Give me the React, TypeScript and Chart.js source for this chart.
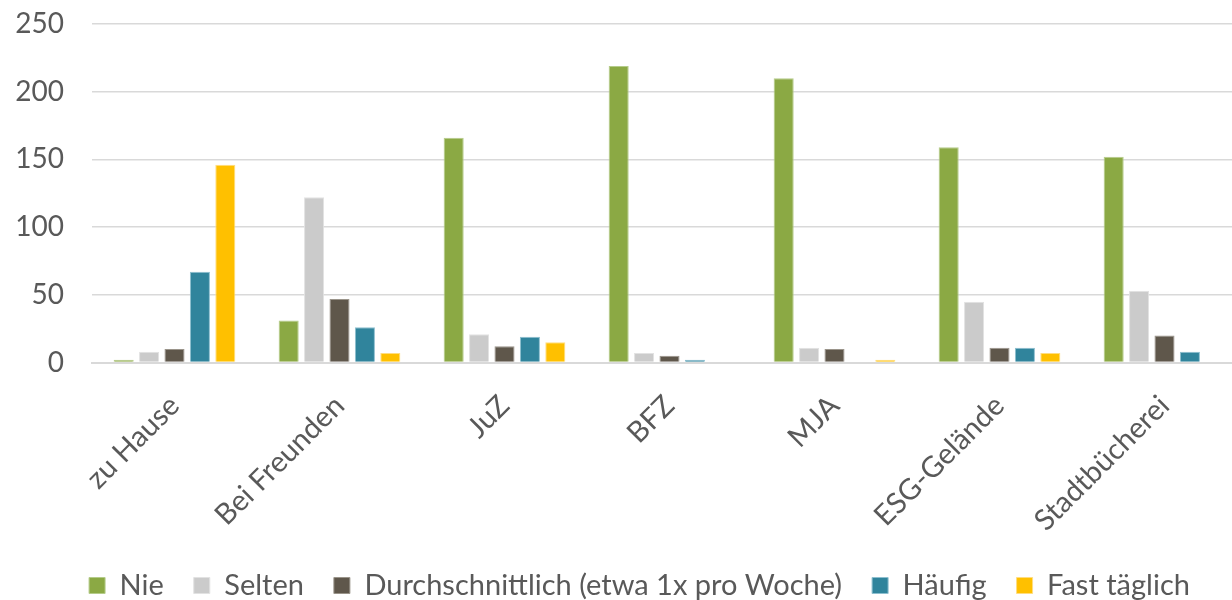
import React, { useEffect, useRef } from "react";
import { Chart, registerables } from "chart.js";

Chart.register(...registerables);

const categories = ["zu Hause", "Bei Freunden", "JuZ", "BFZ", "MJA", "ESG-Gelände", "Stadtbücherei"];
const seriesNames = ["Nie", "Selten", "Durchschnittlich (etwa 1x pro Woche)", "Häufig", "Fast täglich"];
const nie = [2, 31, 166, 219, 210, 159, 152];
const selten = [8, 122, 21, 7, 11, 45, 53];
const durchschnittlich = [10, 47, 12, 5, 10, 11, 20];
const haeufig = [67, 26, 19, 2, 0, 11, 8];
const fastTaeglich = [146, 7, 15, 0, 2, 7, 0];
const yTicks = [0, 50, 100, 150, 200, 250];

const colors = ["#8BA944", "#CBCBCB", "#5F574B", "#30849C", "#FFC000"];
const borders = ["#B5CC8A", "#E2E2E2", "#9A948A", "#8DBFCF", "#FFDD80"];

export default function App() {
  const ref = useRef<HTMLCanvasElement | null>(null);
  useEffect(() => {
    document.body.style.margin = "0";
    const values = [nie, selten, durchschnittlich, haeufig, fastTaeglich];
    const font = "Lato";
    const shiftLegend = {
      id: "shiftLegend",
      afterLayout(chart: any) {
        if (chart.legend) {
          chart.legend.left += 9;
          chart.legend.right += 9;
        }
      },
    };
    const chart = new Chart(ref.current!, {
      type: "bar",
      data: {
        labels: categories,
        datasets: seriesNames.map((n, i) => ({
          label: n,
          data: values[i],
          backgroundColor: colors[i],
          borderColor: borders[i],
          borderWidth: 1,
          categoryPercentage: 0.77,
          barPercentage: 0.79,
        })),
      },
      options: {
        animation: false,
        responsive: false,
        maintainAspectRatio: false,
        layout: { padding: { top: 24, right: 3, left: 14, bottom: -10 } },
        plugins: {
          tooltip: { enabled: false },
          legend: {
            position: "bottom",
            labels: {
              font: { family: font, size: 29 },
              color: "#595959",
              boxWidth: 16,
              boxHeight: 16,
              padding: 30,
            },
          },
        },
        scales: {
          x: {
            grid: { display: false },
            border: { color: "#D9D9D9", width: 2 },
            afterFit: (axis: any) => {
              axis.paddingLeft = 0;
              axis.paddingRight = 0;
              axis.height -= 15;
            },
            ticks: {
              font: { family: font, size: 29 },
              color: "#595959",
              maxRotation: 45,
              minRotation: 45,
              padding: 18,
            },
          },
          y: {
            min: 0,
            max: 250,
            afterBuildTicks: (axis: any) => {
              axis.ticks = yTicks.map((v) => ({ value: v }));
            },
            afterFit: (axis: any) => {
              axis.width = 78;
              axis.paddingTop = 0;
              axis.paddingBottom = 0;
            },
            grid: { color: "#D9D9D9", lineWidth: 1.5, drawTicks: false },
            border: { display: false },
            ticks: {
              font: { family: font, size: 28 },
              color: "#595959",
              padding: 28,
            },
          },
        },
      },
      plugins: [shiftLegend],
    });
    return () => chart.destroy();
  }, []);
  return (
    <div style={{ width: 1232, height: 600, overflow: "hidden" }}>
      <canvas ref={ref} width={1250} height={600} />
    </div>
  );
}
